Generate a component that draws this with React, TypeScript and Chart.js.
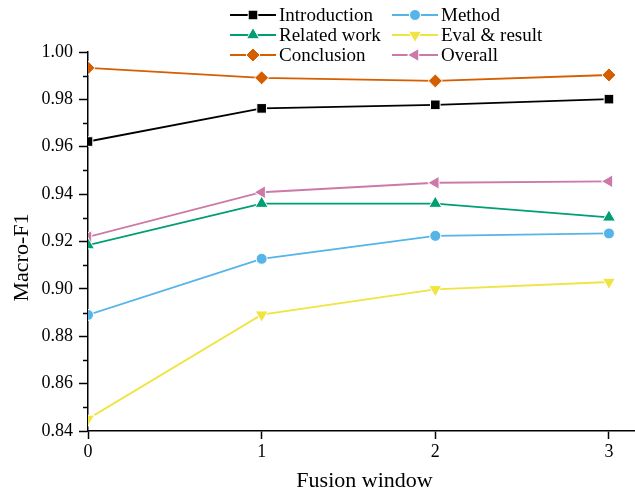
import React, { useEffect, useRef } from 'react';
import { Chart, registerables } from 'chart.js';
import { drawPoint } from 'chart.js/helpers';

Chart.register(...registerables);

// ---- data ----
const windows = [0, 1, 2, 3];
const seriesNames = ['Introduction', 'Method', 'Related work', 'Eval & result', 'Conclusion', 'Overall'];
const introduction = [0.9622, 0.9762, 0.9777, 0.9801];
const method = [0.889, 0.9127, 0.9224, 0.9234];
const relatedWork = [0.9185, 0.936, 0.936, 0.9302];
const evalResult = [0.8451, 0.8891, 0.8998, 0.9029];
const conclusion = [0.9933, 0.9891, 0.9878, 0.9903];
const overall = [0.9219, 0.9408, 0.9448, 0.9454];
const yMajorTicks = [0.84, 0.86, 0.88, 0.9, 0.92, 0.94, 0.96, 0.98, 1.0];
const yMinorTicks = [0.85, 0.87, 0.89, 0.91, 0.93, 0.95, 0.97, 0.99];
const xTitle = 'Fusion window';
const yTitle = 'Macro-F1';

const seriesValues = [introduction, method, relatedWork, evalResult, conclusion, overall];
const seriesColors = ['#000000', '#56B4E9', '#009E73', '#F0E442', '#D55E00', '#CC79A7'];
const seriesStyles = [
  { pointStyle: 'rect', rotation: 0, radius: 6.8 },
  { pointStyle: 'circle', rotation: 0, radius: 5.5 },
  { pointStyle: 'triangle', rotation: 0, radius: 7.5 },
  { pointStyle: 'triangle', rotation: 180, radius: 7.5 },
  { pointStyle: 'rectRot', rotation: 0, radius: 7 },
  { pointStyle: 'triangle', rotation: 270, radius: 7.5 },
];

const FONT = "'Liberation Serif', 'Times New Roman', serif";

const decorPlugin = {
  id: 'decor',
  afterDraw(chart: any) {
    const ctx = chart.ctx as CanvasRenderingContext2D;
    const area = chart.chartArea;
    const yScale = chart.scales.y;
    ctx.save();
    // minor ticks on y axis
    ctx.strokeStyle = '#000';
    ctx.lineWidth = 1.5;
    yMinorTicks.forEach((v) => {
      const py = Math.round(yScale.getPixelForValue(v)) + 0.5;
      ctx.beginPath();
      ctx.moveTo(area.left, py);
      ctx.lineTo(area.left - 5, py);
      ctx.stroke();
    });
    // axis titles
    ctx.fillStyle = '#000';
    ctx.font = `22px ${FONT}`;
    ctx.textAlign = 'center';
    ctx.textBaseline = 'middle';
    ctx.fillText(xTitle, (area.left + area.right) / 2 + 3, 481);
    ctx.save();
    ctx.translate(22, (area.top + area.bottom) / 2 + 16);
    ctx.rotate(-Math.PI / 2);
    ctx.fillText(yTitle, 0, 0);
    ctx.restore();
    // legend (2 columns, row-major)
    const colStart = [230, 392];
    const sampleLen = 46;
    ctx.font = `19px ${FONT}`;
    ctx.textAlign = 'left';
    chart.data.datasets.forEach((ds: any, i: number) => {
      const col = i % 2;
      const row = Math.floor(i / 2);
      const x0 = colStart[col];
      const y = 15 + row * 20;
      ctx.strokeStyle = ds.borderColor;
      ctx.lineWidth = 1.8;
      ctx.beginPath();
      ctx.moveTo(x0, y);
      ctx.lineTo(x0 + sampleLen, y);
      ctx.stroke();
      ctx.fillStyle = ds.pointBackgroundColor;
      ctx.strokeStyle = '#ffffff';
      ctx.lineWidth = 1;
      drawPoint(ctx, { pointStyle: ds.pointStyle, rotation: ds.pointRotation, radius: ds.pointRadius, borderWidth: 1 }, x0 + sampleLen / 2, y);
      ctx.fillStyle = '#000';
      ctx.fillText(ds.label, x0 + sampleLen + 3, y + 1);
    });
    ctx.restore();
  },
};

export default function App() {
  const canvasRef = useRef<HTMLCanvasElement | null>(null);

  useEffect(() => {
    document.body.style.margin = '0';
    const canvas = canvasRef.current;
    if (!canvas) return;
    const datasets = seriesNames.map((name, i) => ({
      label: name,
      data: windows.map((w, j) => ({ x: w, y: seriesValues[i][j] })),
      borderColor: seriesColors[i],
      backgroundColor: seriesColors[i],
      pointBackgroundColor: seriesColors[i],
      pointBorderColor: '#ffffff',
      pointBorderWidth: 1,
      pointStyle: seriesStyles[i].pointStyle,
      pointRotation: seriesStyles[i].rotation,
      pointRadius: seriesStyles[i].radius,
      borderWidth: 1.8,
      tension: 0,
      clip: 0,
    }));

    const chart = new Chart(canvas, {
      type: 'line',
      data: { datasets },
      plugins: [decorPlugin],
      options: {
        responsive: false,
        animation: false,
        devicePixelRatio: 1,
        layout: { autoPadding: false, padding: { top: 52, left: 0, right: 0, bottom: 0 } },
        plugins: { legend: { display: false }, tooltip: { enabled: false } },
        scales: {
          x: {
            type: 'linear',
            min: 0,
            max: 3.15,
            afterBuildTicks: (s: any) => {
              s.ticks = windows.map((v) => ({ value: v }));
            },
            afterFit: (s: any) => {
              s.height = 63;
              s.paddingRight = 0;
              s.paddingLeft = 0;
            },
            ticks: {
              color: '#000',
              font: { family: FONT, size: 18 },
              padding: 2,
              maxRotation: 0,
              callback: (v: any) => String(v),
            },
            grid: { drawOnChartArea: false, drawTicks: true, tickLength: 8, tickColor: '#000', tickWidth: 1.5 },
            border: { display: true, color: '#000', width: 1.5 },
          },
          y: {
            type: 'linear',
            min: 0.84,
            max: 1.0,
            afterBuildTicks: (s: any) => {
              s.ticks = yMajorTicks.map((v) => ({ value: v }));
            },
            afterFit: (s: any) => {
              s.width = 88;
              s.paddingTop = 0;
              s.paddingBottom = 0;
            },
            ticks: {
              color: '#000',
              font: { family: FONT, size: 18 },
              padding: 6,
              callback: (v: any) => Number(v).toFixed(2),
            },
            grid: { drawOnChartArea: false, drawTicks: true, tickLength: 9, tickColor: '#000', tickWidth: 1.5 },
            border: { display: true, color: '#000', width: 1.5 },
          },
        },
      },
    } as any);
    return () => chart.destroy();
  }, []);

  return (
    <div style={{ width: 635, height: 494, background: '#fff' }}>
      <canvas ref={canvasRef} width={635} height={494} style={{ display: 'block' }} />
    </div>
  );
}
